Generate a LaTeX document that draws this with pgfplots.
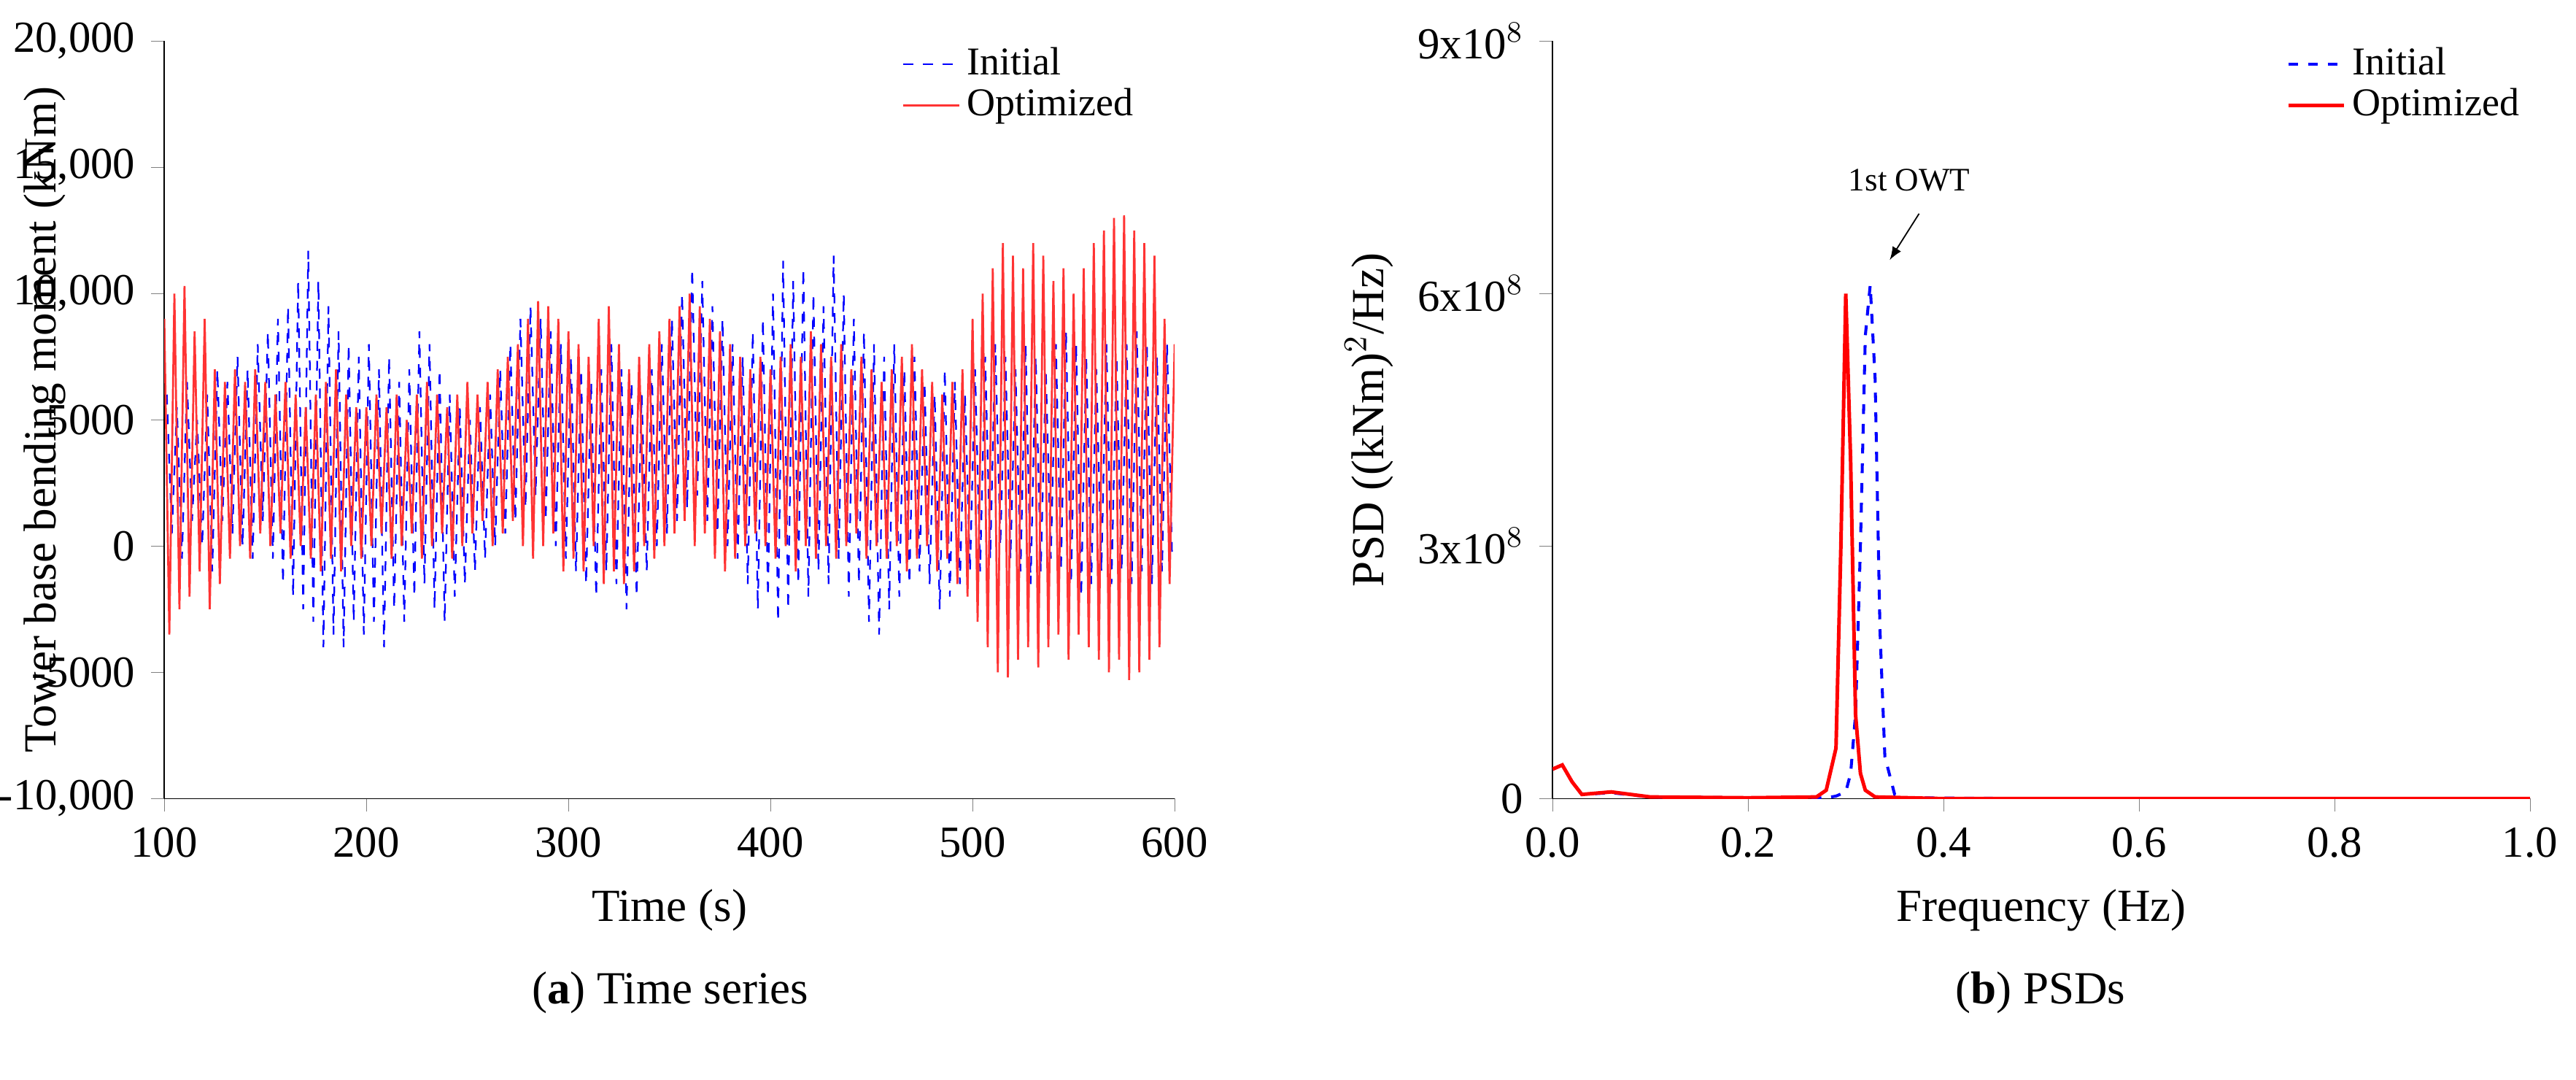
\documentclass[border=0pt]{standalone}
\usepackage{pgfplots}
\pgfplotsset{compat=1.18}
\usepackage{fontspec}
\setmainfont{Liberation Serif}
\begin{document}
\fontsize{14}{16}\selectfont
\begin{tikzpicture}
\path[use as bounding box] (0,0) rectangle (784pt,-328.5pt);
\pgfplotsset{every axis/.append style={
  scale only axis, axis lines*=left, tick align=outside, tick pos=left,
  scaled ticks=false,
  /pgf/number format/assume math mode=true,
  tick label style={font=\fontsize{13.5}{16}\selectfont},
  label style={font=\fontsize{14}{16}\selectfont},
  legend style={draw=none, fill=none, font=\fontsize{12}{14}\selectfont, anchor=north west, row sep=-2pt},
  legend cell align=left,
  major tick length=4pt}}
\begin{axis}[at={(50pt,-243pt)}, anchor=south west, width=307.5pt, height=230.5pt,
  xmin=100, xmax=600, ymin=-10000, ymax=20000,
  legend style={at={(0.72,1.01)}},
  xtick={100,200,...,600}, ytick={-10000,-5000,0,5000,10000,15000,20000},
  yticklabels={{-10,000},{-5000},{0},{5000},{10,000},{15,000},{20,000}},
  xlabel={Time (s)}, ylabel={Tower base bending moment (kNm)},
  ylabel style={at={(axis description cs:-0.118,0.5)}, anchor=center}]
\addplot[blue, dashed, line width=0.5pt] table[x expr=101.25+2.5*\coordindex, y index=0] {
y
6000
500
5500
-500
6500
1000
5000
0
6000
-1000
7000
1000
6500
500
7500
0
7000
-500
8000
1000
8500
-500
9000
-1500
9500
-2000
10500
-2500
11700
-3000
10500
-4000
9500
-3500
8500
-4000
8000
-3000
7500
-3500
8000
-3000
7000
-4000
7500
-2500
6500
-3000
7000
-2000
8500
-1500
8000
-2500
7000
-3000
6000
-2000
5500
-1500
5000
-1000
5500
-500
6000
0
7000
500
8000
1000
9000
1500
9500
2000
9000
1000
8500
0
8000
-500
7500
-1000
7000
-1500
6500
-2000
7000
-1000
8000
-1500
7000
-2500
6500
-2000
6000
-1000
7000
0
8000
500
9000
1000
10000
1500
11000
2000
10500
1000
9500
500
9000
0
8000
-500
7500
-1500
8500
-2500
9000
-2000
10000
-3000
11300
-2500
10500
-1500
11000
-2000
10000
-1000
9500
-1500
11500
-500
10000
-2000
9000
-1500
8500
-3000
8000
-3500
7500
-2500
8000
-2000
7000
-1500
7500
-1000
6500
-1500
6000
-2500
7000
-2000
6500
-1500
6000
-1000
7000
-1000
7500
-500
8000
0
7500
-500
7000
-1000
8000
-1500
7500
-1000
7000
-500
8000
-1000
8500
-1500
8000
-2000
7500
-1500
7000
-1000
8000
-1500
7500
-1000
8000
-1500
8500
-1000
8000
-1500
7500
-1000
8000
-500
};
\addlegendentry{Initial}
\addplot[red!80!white, solid, line width=0.6pt] table[x expr=100+2.5*\coordindex, y index=0] {
y
9000
-3500
10000
-2500
10300
-2000
8500
-1000
9000
-2500
7000
-1500
6500
-500
7000
0
6500
-500
7000
500
6500
0
6000
500
6500
-500
6000
0
5500
-500
6000
-1000
6500
-500
7000
-1000
6000
0
5500
-500
5500
0
6000
500
5500
-500
6000
0
5000
500
6000
-500
6500
0
6000
500
5500
-500
6000
0
6500
500
6000
1000
6500
0
7000
500
7500
1000
8000
0
9000
-500
9700
0
9500
500
9000
-1000
8500
-500
8000
-1000
7500
0
9000
-1500
9500
-1000
8000
-1500
7000
-1000
7500
0
8000
-500
8500
0
9000
500
9500
1000
10000
0
9500
500
9000
-500
8500
-1000
8000
-500
7500
0
7000
500
7500
0
7000
-500
7500
0
8000
-1000
7500
0
8500
-500
8000
0
7500
-500
8000
0
7000
500
7500
-500
7000
0
6500
-500
7000
0
7500
-1000
8000
-500
7000
0
6500
-1000
6000
-500
6500
-1500
7000
-2000
9000
-3000
10000
-4000
11000
-5000
12000
-5200
11500
-4500
11000
-4000
12000
-4800
11500
-4000
10500
-3500
11000
-4500
10000
-3500
11000
-4000
12000
-4500
12500
-5000
13000
-4500
13100
-5300
12500
-5000
12000
-4500
11500
-4000
9000
-1500
8000
};
\addlegendentry{Optimized}
\end{axis}
\begin{axis}[at={(472.5pt,-243pt)}, anchor=south west, width=297.5pt, height=230.5pt,
  xmin=0, xmax=1, ymin=0, ymax=9,
  legend style={at={(0.74,1.01)}},
  xtick={0,0.2,...,1}, xticklabel style={/pgf/number format/.cd, fixed, fixed zerofill, precision=1},
  ytick={0,3,6,9}, yticklabels={0,3x10$^8$,6x10$^8$,9x10$^8$},
  xlabel={Frequency (Hz)}, ylabel={PSD ((kNm)$^2$/Hz)}, ylabel style={yshift=-2pt}]
\addplot[blue, dashed, line width=0.9pt] coordinates {
(0,0.35) (0.01,0.4) (0.02,0.2) (0.03,0.05) (0.06,0.07) (0.1,0.02) (0.2,0.01) (0.28,0.01) (0.29,0.03) (0.30,0.08) (0.305,0.3) (0.31,1.0) (0.315,3.0) (0.32,5.5) (0.325,6.1) (0.33,5.0) (0.335,2.0) (0.34,0.5) (0.35,0.05) (0.36,0.01) (0.5,0) (1.0,0)};
\addlegendentry{Initial}
\addplot[red, solid, line width=1.1pt] coordinates {
(0,0.35) (0.01,0.4) (0.02,0.2) (0.03,0.05) (0.06,0.08) (0.1,0.02) (0.2,0.01) (0.27,0.02) (0.28,0.1) (0.29,0.6) (0.295,3.0) (0.30,6.0) (0.305,4.0) (0.31,1.0) (0.315,0.3) (0.32,0.1) (0.33,0.02) (0.4,0) (1.0,0)};
\addlegendentry{Optimized}
\node[font=\fontsize{10}{12}\selectfont] at (axis cs:0.365,7.35) {1st OWT};
\draw[-latex] (axis cs:0.375,6.95) -- (axis cs:0.345,6.4);
\end{axis}
\node at (204pt,-302pt) {(\textbf{a}) Time series};
\node at (621pt,-302pt) {(\textbf{b}) PSDs};
\end{tikzpicture}
\end{document}
